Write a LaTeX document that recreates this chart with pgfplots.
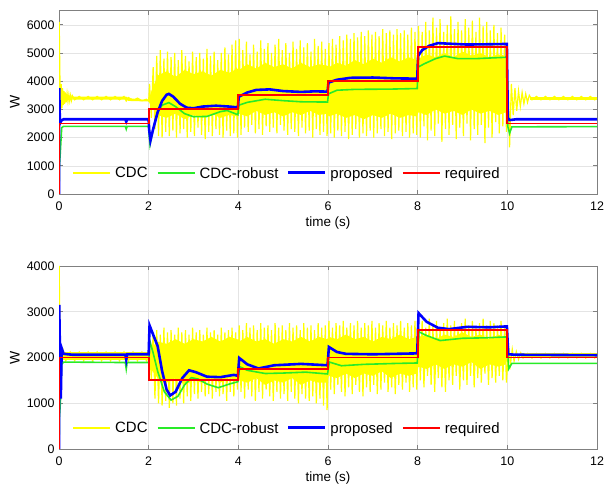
\documentclass[border=0pt]{standalone}
\usepackage{fontspec}
\setmainfont{Liberation Sans}
\usepackage{pgfplots}
\pgfplotsset{compat=1.18}
\definecolor{cdcY}{RGB}{255,255,0}
\definecolor{cdcG}{RGB}{40,235,40}
\definecolor{propB}{RGB}{0,0,255}
\definecolor{reqR}{RGB}{255,0,0}
\definecolor{gridc}{RGB}{228,228,228}
\definecolor{framec}{RGB}{128,128,128}

% legend key: coloured rule + label
\newcommand{\lkey}[3]{\textcolor{#1}{\rule[\dimexpr5.4bp-#2/2\relax]{37bp}{#2}}\hspace{5bp}#3}

\pgfplotsset{
  sigax/.style={
    scale only axis, width=538bp,
    xmin=0, xmax=12, xtick={0,2,4,6,8,10,12},
    grid=major, grid style={gridc, line width=0.5bp},
    axis line style={framec, line width=0.6bp},
    tick style={framec, line width=0.6bp},
    tick align=inside, major tick length=4bp,
    scaled y ticks=false,
    /pgf/number format/1000 sep={},
    /pgf/number format/assume math mode=true,
    ticklabel style={font=\fontsize{12.5}{14}\selectfont},
    xticklabel style={yshift=-4bp},
    yticklabel style={xshift=-1bp},
    xlabel={time (s)}, ylabel={W},
    xlabel style={at={(axis description cs:0.5,-0.158)}, anchor=center, font=\fontsize{13.5}{15}\selectfont},
    ylabel style={at={(axis description cs:-0.082,0.5)}, anchor=center, font=\fontsize{14}{16}\selectfont},
    legend columns=4,
    legend image code/.code={},
    legend style={at={(0.026,0.112)}, anchor=west, draw=none, fill=none, inner sep=0pt,
      nodes={inner sep=0pt},
      font=\fontsize{15}{17}\selectfont,
      /tikz/every even column/.append style={column sep=10bp}},
  },
}

\begin{document}
\begin{tikzpicture}
\useasboundingbox (0,0) rectangle (605bp,488bp);

% ---------- top ----------
\begin{axis}[sigax, at={(59bp,294bp)}, anchor=south west, height=183.3bp,
  ymin=0, ymax=6500, ytick={0,1000,2000,3000,4000,5000,6000}]
\addplot[draw=none, fill=cdcY, forget plot] coordinates {(0.3,3350) (1.5,3350) (1.55,3300) (2,3280) (2,3320) (1.55,3400) (1.5,3450) (0.3,3450)};
\addplot[draw=none, fill=cdcY, forget plot] coordinates {(2.0,3300) (2.05,3100)
(2.2,2800) (2.4,2700) (2.6,2850) (2.8,2650) (3.0,2800) (3.2,2700) (3.4,2850) (3.6,2700) (3.8,2800) (3.98,2750)
(4.02,2850) (4.2,2750) (4.4,2950) (4.6,2800) (4.8,2900) (5.0,2750) (5.2,2900) (5.4,2800) (5.6,2950) (5.8,2800) (5.98,2850)
(6.02,2750) (6.2,2850) (6.4,2700) (6.6,2800) (6.8,2650) (7.0,2800) (7.2,2700) (7.4,2850) (7.6,2700) (7.8,2800) (7.98,2750)
(8.02,2900) (8.2,2800) (8.4,3000) (8.6,2850) (8.8,2950) (9.0,2800) (9.2,3000) (9.4,2850) (9.6,2950) (9.8,2800) (9.97,2900)
(10.0,3300)
(9.97,4900) (9.8,4950) (9.6,4850) (9.4,5000) (9.2,4900) (9.0,5050) (8.8,4850) (8.6,5000) (8.4,4850) (8.2,4950) (8.02,4800)
(7.98,4750) (7.8,4850) (7.6,4700) (7.4,4850) (7.2,4650) (7.0,4800) (6.8,4600) (6.6,4750) (6.4,4550) (6.2,4650) (6.02,4500)
(5.98,4550) (5.8,4600) (5.6,4500) (5.4,4650) (5.2,4450) (5.0,4600) (4.8,4500) (4.6,4650) (4.4,4450) (4.2,4600) (4.02,4400)
(3.98,4450) (3.8,4300) (3.6,4400) (3.4,4200) (3.2,4350) (3.0,4250) (2.8,4400) (2.6,4150) (2.4,4350) (2.2,4200) (2.05,3600)};
\addplot[draw=none, fill=cdcY, forget plot] coordinates {(10.5,3350) (12,3350) (12,3450) (10.5,3450)};
\addplot[cdcY, line width=1.2bp] coordinates {
(0,0) (0.005,6100) (0.02,4200) (0.035,2900) (0.05,3900) (0.065,3050) (0.08,3750) (0.095,3150) (0.11,3650) (0.125,3200) (0.14,3600) (0.16,3250) (0.18,3560) (0.2,3280) (0.22,3520) (0.24,3300) (0.26,3500) (0.28,3320) (0.3,3480)
(0.35,3340) (0.45,3460) (0.55,3340) (0.65,3460) (0.75,3340) (0.85,3460) (0.95,3340) (1.05,3460) (1.15,3340) (1.25,3460) (1.35,3340) (1.45,3460)
(1.5,3300) (1.55,3420) (1.65,3320) (1.75,3400) (1.85,3310) (1.95,3360) (2.0,3300)
(2.02,3900) (2.06,2700) (2.10,4500) (2.14,2300) (2.18,4900) (2.22,2050) (2.26,5100) (2.30,2000) (2.34,4800) (2.38,2200) (2.42,5050) (2.46,2050) (2.50,4850) (2.54,2250) (2.58,5000) (2.62,2000) (2.66,4750) (2.70,2150) (2.74,5100) (2.78,2300) (2.82,4900) (2.86,2000) (2.90,4700) (2.94,2200) (2.98,5050) (3.02,2050) (3.06,4850) (3.10,2350) (3.14,5000) (3.18,2100) (3.22,4800) (3.26,1950) (3.30,5150) (3.34,2200) (3.38,4900) (3.42,2050) (3.46,5050) (3.50,2300) (3.54,4750) (3.58,2100) (3.62,5000) (3.66,2000) (3.70,5200) (3.74,2250) (3.78,4950) (3.82,2050) (3.86,5300) (3.90,2150) (3.94,5450) (3.98,2000)
(4.02,5500) (4.06,2100) (4.10,5100) (4.14,2350) (4.18,5400) (4.22,2200) (4.26,4950) (4.30,2450) (4.34,5300) (4.38,2150) (4.42,5050) (4.46,2300) (4.50,5450) (4.54,2100) (4.58,5150) (4.62,2400) (4.66,5350) (4.70,2200) (4.74,5000) (4.78,2350) (4.82,5300) (4.86,2150) (4.90,5500) (4.94,2450) (4.98,5100) (5.02,2250) (5.06,5350) (5.10,2100) (5.14,5000) (5.18,2300) (5.22,5400) (5.26,2200) (5.30,5150) (5.34,2050) (5.38,5450) (5.42,2350) (5.46,5200) (5.50,2150) (5.54,5350) (5.58,2250) (5.62,5050) (5.66,2000) (5.70,5500) (5.74,2300) (5.78,5250) (5.82,2100) (5.86,5400) (5.90,2200) (5.94,5150) (5.98,2050)
(6.02,5350) (6.06,2150) (6.10,5500) (6.14,2000) (6.18,5300) (6.22,2250) (6.26,5600) (6.30,2050) (6.34,5450) (6.38,2200) (6.42,5650) (6.46,1950) (6.50,5500) (6.54,2100) (6.58,5700) (6.62,2300) (6.66,5550) (6.70,2000) (6.74,5750) (6.78,2150) (6.82,5600) (6.86,2050) (6.90,5800) (6.94,2250) (6.98,5650) (7.02,2000) (7.06,5750) (7.10,2150) (7.14,5600) (7.18,2300) (7.22,5850) (7.26,2050) (7.30,5700) (7.34,2200) (7.38,5800) (7.42,1950) (7.46,5650) (7.50,2150) (7.54,5850) (7.58,2250) (7.62,5700) (7.66,2050) (7.70,5800) (7.74,2200) (7.78,5650) (7.82,2000) (7.86,5900) (7.90,2150) (7.94,5750) (7.98,2100)
(8.02,5950) (8.06,2000) (8.10,5750) (8.14,2400) (8.18,6100) (8.22,1900) (8.26,5800) (8.30,2250) (8.34,6250) (8.38,2050) (8.42,5900) (8.46,2500) (8.50,6200) (8.54,1850) (8.58,5750) (8.62,2300) (8.66,6000) (8.70,2100) (8.74,6300) (8.78,2450) (8.82,5850) (8.86,1950) (8.90,6100) (8.94,2350) (8.98,5800) (9.02,2050) (9.06,6200) (9.10,2500) (9.14,5900) (9.18,1900) (9.22,6150) (9.26,2300) (9.30,5750) (9.34,2100) (9.38,6250) (9.42,2450) (9.46,5950) (9.50,1800) (9.54,6100) (9.58,2350) (9.62,5800) (9.66,2000) (9.70,6000) (9.74,2550) (9.78,5700) (9.82,2150) (9.86,5900) (9.90,2400) (9.94,5650) (9.98,2200)
(10.02,4000) (10.05,1650) (10.09,3900) (10.13,2800) (10.17,3750) (10.21,2950) (10.25,3650) (10.29,3100) (10.33,3600) (10.37,3200) (10.41,3550) (10.45,3250) (10.49,3500)
(10.55,3340) (10.65,3460) (10.75,3340) (10.85,3460) (10.95,3340) (11.05,3460) (11.15,3340) (11.25,3460) (11.35,3340) (11.45,3460) (11.55,3340) (11.65,3460) (11.75,3340) (11.85,3460) (11.95,3340) (12,3400)};
\addlegendentry{\lkey{cdcY}{2bp}{CDC}}
\addplot[cdcG, line width=1.6bp] coordinates {(0,0) (0.01,1000) (0.03,1500) (0.06,2350) (0.1,2400) (1.48,2400) (1.5,2300) (1.52,2400) (2,2400) (2.01,2100) (2.03,1750) (2.1,2300) (2.2,2900) (2.3,3150) (2.45,3240) (2.6,3100) (2.8,2850) (3.0,2740) (3.3,2750) (3.6,2920) (3.75,2960) (3.99,2810) (4.01,3150) (4.2,3250) (4.6,3360) (5.0,3310) (5.4,3270) (5.99,3260) (6.01,3550) (6.2,3680) (6.6,3710) (7.4,3720) (7.99,3740) (8.01,4500) (8.15,4620) (8.4,4800) (8.6,4890) (8.9,4800) (9.3,4800) (9.99,4850) (10.01,2400) (10.05,2150) (10.1,2380) (12,2390)};
\addlegendentry{\lkey{cdcG}{2bp}{CDC-robust}}
\addplot[propB, line width=2.6bp] coordinates {(0,0) (0.005,3750) (0.02,2500) (0.05,2600) (0.1,2650) (1.48,2650) (1.5,2570) (1.52,2650) (2,2650) (2.01,2300) (2.04,1900) (2.1,2300) (2.2,2900) (2.3,3300) (2.4,3520) (2.45,3550) (2.55,3450) (2.7,3200) (2.85,3060) (3.0,3040) (3.2,3100) (3.5,3130) (3.8,3100) (3.99,3070) (4.01,3450) (4.2,3600) (4.4,3690) (4.7,3710) (5.0,3650) (5.4,3620) (5.7,3640) (5.99,3630) (6.01,3950) (6.2,4050) (6.5,4120) (7.0,4130) (7.5,4100) (7.99,4090) (8.01,4900) (8.1,5100) (8.25,5250) (8.45,5350) (8.7,5330) (9.1,5300) (9.6,5310) (9.99,5320) (10.01,2700) (10.05,2620) (10.2,2650) (12,2650)};
\addlegendentry{\lkey{propB}{3bp}{proposed}}
\addplot[reqR, line width=1.8bp] coordinates {(0,0) (0,2500) (2,2500) (2,3000) (4,3000) (4,3500) (6,3500) (6,4000) (8,4000) (8,5200) (10,5200) (10,2500) (12,2500)};
\addlegendentry{\lkey{reqR}{2bp}{required}}
\end{axis}

% ---------- bottom ----------
\begin{axis}[sigax, at={(59bp,39bp)}, anchor=south west, height=183bp,
  ymin=0, ymax=4000, ytick={0,1000,2000,3000,4000}]
\addplot[draw=none, fill=cdcY, forget plot] coordinates {(0.1,1940) (2,1940) (2,2120) (0.1,2120)};
\addplot[draw=none, fill=cdcY, forget plot] coordinates {(2.0,2000) (2.05,1750)
(2.2,1550) (2.4,1450) (2.6,1550) (2.8,1400) (3.0,1500) (3.2,1450) (3.4,1550) (3.6,1450) (3.8,1550) (3.98,1500)
(4.02,1500) (4.2,1450) (4.4,1550) (4.6,1400) (4.8,1500) (5.0,1450) (5.2,1550) (5.4,1400) (5.6,1500) (5.8,1450) (5.98,1450)
(6.02,1600) (6.2,1550) (6.4,1650) (6.6,1550) (6.8,1650) (7.0,1600) (7.2,1700) (7.4,1550) (7.6,1650) (7.8,1600) (7.98,1650)
(8.02,1800) (8.2,1750) (8.4,1850) (8.6,1750) (8.8,1850) (9.0,1800) (9.2,1900) (9.4,1750) (9.6,1850) (9.8,1800) (9.97,1850)
(10.0,2000)
(9.97,2450) (9.8,2500) (9.6,2400) (9.4,2500) (9.2,2450) (9.0,2550) (8.8,2450) (8.6,2500) (8.4,2400) (8.2,2500) (8.02,2450)
(7.98,2450) (7.8,2400) (7.6,2500) (7.4,2400) (7.2,2450) (7.0,2350) (6.8,2450) (6.6,2400) (6.4,2500) (6.2,2400) (6.02,2450)
(5.98,2400) (5.8,2450) (5.6,2350) (5.4,2450) (5.2,2350) (5.0,2400) (4.8,2300) (4.6,2400) (4.4,2350) (4.2,2450) (4.02,2350)
(3.98,2400) (3.8,2450) (3.6,2350) (3.4,2450) (3.2,2350) (3.0,2400) (2.8,2300) (2.6,2400) (2.4,2300) (2.2,2350) (2.05,2200)};
\addplot[draw=none, fill=cdcY, forget plot] coordinates {(10.3,1990) (12,1990) (12,2090) (10.3,2090)};
\addplot[cdcY, line width=1.2bp] coordinates {
(0,0) (0.005,4000) (0.02,2300) (0.04,1900) (0.06,2200) (0.08,1950) (0.10,2130)
(0.15,1930) (0.25,2120) (0.35,1930) (0.45,2120) (0.55,1930) (0.65,2120) (0.75,1930) (0.85,2120) (0.95,1930) (1.05,2120) (1.15,1930) (1.25,2120) (1.35,1930) (1.45,2120) (1.55,1930) (1.65,2120) (1.75,1930) (1.85,2120) (1.95,1930) (2.0,2000)
(2.02,2300) (2.06,1500) (2.10,2550) (2.14,1100) (2.18,2600) (2.22,1000) (2.26,2500) (2.30,950) (2.34,2650) (2.38,1050) (2.42,2550) (2.46,900) (2.50,2600) (2.54,1000) (2.58,2500) (2.62,950) (2.66,2650) (2.70,1100) (2.74,2550) (2.78,1000) (2.82,2600) (2.86,1150) (2.90,2500) (2.94,1050) (2.98,2650) (3.02,1200) (3.06,2550) (3.10,1100) (3.14,2600) (3.18,1250) (3.22,2500) (3.26,1150) (3.30,2650) (3.34,1200) (3.38,2550) (3.42,1100) (3.46,2600) (3.50,1250) (3.54,2500) (3.58,1150) (3.62,2650) (3.66,1200) (3.70,2550) (3.74,1050) (3.78,2600) (3.82,1250) (3.86,2650) (3.90,1150) (3.94,2550) (3.98,1300)
(4.02,2700) (4.06,1250) (4.10,2600) (4.14,1100) (4.18,2750) (4.22,1300) (4.26,2650) (4.30,1150) (4.34,2700) (4.38,1050) (4.42,2600) (4.46,1250) (4.50,2750) (4.54,1100) (4.58,2650) (4.62,1300) (4.66,2700) (4.70,1150) (4.74,2600) (4.78,1050) (4.82,2750) (4.86,1250) (4.90,2650) (4.94,1100) (4.98,2700) (5.02,1200) (5.06,2600) (5.10,1050) (5.14,2750) (5.18,1250) (5.22,2650) (5.26,1100) (5.30,2700) (5.34,1000) (5.38,2600) (5.42,1200) (5.46,2750) (5.50,1100) (5.54,2650) (5.58,1050) (5.62,2700) (5.66,1150) (5.70,2600) (5.74,1000) (5.78,2750) (5.82,1100) (5.86,2650) (5.90,950) (5.94,2700) (5.98,850)
(6.02,2800) (6.06,1300) (6.10,2650) (6.14,1200) (6.18,2750) (6.22,1400) (6.26,2700) (6.30,1250) (6.34,2800) (6.38,1150) (6.42,2650) (6.46,1350) (6.50,2750) (6.54,1200) (6.58,2700) (6.62,1400) (6.66,2800) (6.70,1250) (6.74,2650) (6.78,1150) (6.82,2750) (6.86,1350) (6.90,2700) (6.94,1250) (6.98,2800) (7.02,1400) (7.06,2650) (7.10,1200) (7.14,2750) (7.18,1300) (7.22,2700) (7.26,1450) (7.30,2800) (7.34,1250) (7.38,2650) (7.42,1350) (7.46,2750) (7.50,1200) (7.54,2700) (7.58,1400) (7.62,2800) (7.66,1300) (7.70,2650) (7.74,1450) (7.78,2750) (7.82,1250) (7.86,2700) (7.90,1350) (7.94,2800) (7.98,1300)
(8.02,2700) (8.06,1500) (8.10,2800) (8.14,1350) (8.18,2650) (8.22,1600) (8.26,2850) (8.30,1400) (8.34,2700) (8.38,1250) (8.42,2800) (8.46,1550) (8.50,2650) (8.54,1350) (8.58,2750) (8.62,1250) (8.66,2850) (8.70,1500) (8.74,2700) (8.78,1400) (8.82,2800) (8.86,1600) (8.90,2650) (8.94,1300) (8.98,2750) (9.02,1500) (9.06,2850) (9.10,1400) (9.14,2700) (9.18,1600) (9.22,2800) (9.26,1350) (9.30,2650) (9.34,1550) (9.38,2750) (9.42,1450) (9.46,2850) (9.50,1650) (9.54,2700) (9.58,1400) (9.62,2800) (9.66,1550) (9.70,2750) (9.74,1450) (9.78,2700) (9.82,1600) (9.86,2800) (9.90,1500) (9.94,2700) (9.98,1450)
(10.03,2250) (10.07,1850) (10.11,2180) (10.15,1920) (10.2,2130) (10.25,1960) (10.3,2100)
(10.35,1990) (10.45,2090) (10.55,1990) (10.65,2090) (10.75,1990) (10.85,2090) (10.95,1990) (11.05,2090) (11.15,1990) (11.25,2090) (11.35,1990) (11.45,2090) (11.55,1990) (11.65,2090) (11.75,1990) (11.85,2090) (11.95,1990) (12,2040)};
\addlegendentry{\lkey{cdcY}{2bp}{CDC}}
\addplot[cdcG, line width=1.6bp] coordinates {(0,0) (0.01,700) (0.03,1000) (0.06,1850) (0.1,1900) (1.48,1890) (1.5,1750) (1.52,1890) (2,1890) (2.03,2350) (2.1,2100) (2.2,1700) (2.35,1250) (2.5,1070) (2.65,1150) (2.8,1400) (2.95,1560) (3.1,1530) (3.3,1420) (3.55,1340) (3.8,1420) (3.99,1470) (4.03,1800) (4.2,1720) (4.6,1650) (5.0,1660) (5.5,1680) (5.99,1640) (6.03,1900) (6.3,1820) (6.8,1850) (7.5,1870) (7.99,1880) (8.03,2560) (8.2,2480) (8.5,2370) (9.0,2420) (9.5,2430) (9.99,2450) (10.03,1750) (10.1,1870) (12,1870)};
\addlegendentry{\lkey{cdcG}{2bp}{CDC-robust}}
\addplot[propB, line width=2.6bp] coordinates {(0,0) (0.005,3150) (0.02,2200) (0.04,1100) (0.06,2200) (0.1,2080) (0.3,2060) (1.48,2060) (1.5,1950) (1.52,2070) (2,2070) (2.02,2700) (2.1,2500) (2.2,2250) (2.3,1700) (2.4,1300) (2.48,1170) (2.6,1250) (2.75,1550) (2.9,1720) (3.05,1680) (3.3,1580) (3.6,1570) (3.9,1620) (3.99,1600) (4.02,1990) (4.2,1850) (4.45,1760) (4.8,1830) (5.4,1860) (5.99,1830) (6.02,2230) (6.2,2120) (6.4,2080) (7.0,2070) (7.5,2080) (7.99,2090) (8.02,2970) (8.2,2780) (8.45,2650) (8.7,2620) (9.1,2670) (9.6,2660) (9.99,2680) (10.02,2070) (10.2,2060) (12,2050)};
\addlegendentry{\lkey{propB}{3bp}{proposed}}
\addplot[reqR, line width=1.8bp] coordinates {(0,0) (0,2000) (2,2000) (2,1500) (4,1500) (4,1750) (6,1750) (6,2000) (8,2000) (8,2600) (10,2600) (10,2000) (12,2000)};
\addlegendentry{\lkey{reqR}{2bp}{required}}
\end{axis}
\end{tikzpicture}
\end{document}
